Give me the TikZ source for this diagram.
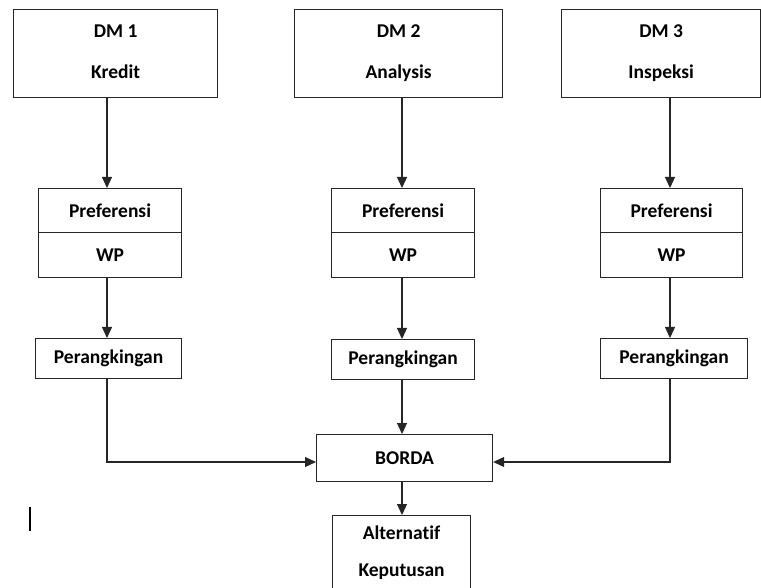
\documentclass[tikz,border=0pt]{standalone}
\usepackage{fontspec}
\setmainfont{Carlito}[Ligatures=NoCommon]
\usetikzlibrary{arrows.meta}
\newcommand{\dpstrut}{\rule[-4.5pt]{0pt}{1pt}}
\begin{document}
\begin{tikzpicture}[x=1pt,y=-1pt,
  box/.style={draw=black!85,line width=1.2pt,rectangle,inner sep=0pt,anchor=north west,
    font=\fontsize{19.5}{22}\selectfont\bfseries,align=center},
  twoline/.style={font=\fontsize{19.5}{#1}\selectfont\bfseries},
  arr/.style={draw=black!85,line width=1.2pt,-{Triangle[width=10pt,length=11pt]}}]
\useasboundingbox (0,0) rectangle (761,588);
% DM boxes
\node[box,twoline=43,minimum width=204pt,minimum height=88pt] (dm1) at (13,9) {DM 1\\[-2pt]Kredit\dpstrut};
\node[box,twoline=43,minimum width=208pt,minimum height=88pt] (dm2) at (294,9) {DM 2\\[-2pt]Analysis\dpstrut};
\node[box,twoline=43,minimum width=199pt,minimum height=88pt] (dm3) at (561,9) {DM 3\\[-2pt]Inspeksi\dpstrut};
% Preferensi / WP
\node[box,minimum width=143pt,minimum height=44pt] (p1) at (38,188) {Preferensi};
\node[box,minimum width=143pt,minimum height=45pt] (w1) at (38,232) {WP};
\node[box,minimum width=143pt,minimum height=44pt] (p2) at (331,188) {Preferensi};
\node[box,minimum width=143pt,minimum height=45pt] (w2) at (331,232) {WP};
\node[box,minimum width=142pt,minimum height=44pt] (p3) at (600,188) {Preferensi};
\node[box,minimum width=142pt,minimum height=45pt] (w3) at (600,232) {WP};
% Perangkingan
\node[box,minimum width=146pt,minimum height=40pt] (r1) at (35,338) {Perangkingan};
\node[box,minimum width=143pt,minimum height=40pt] (r2) at (331,339) {Perangkingan};
\node[box,minimum width=147pt,minimum height=40pt] (r3) at (600,338) {Perangkingan};
% BORDA
\node[box,minimum width=176pt,minimum height=47pt] (borda) at (316,434) {BORDA};
% Alternatif
\node[box,twoline=37,minimum width=138pt,minimum height=74pt] (alt) at (332,515) {Alternatif\\Keputusan};
% coordinates
\coordinate (c1) at (107,462);
\coordinate (c3) at (670,462);
% arrows
\draw[arr] (dm1.south -| 107,0) -- (p1.north -| 107,0);
\draw[arr] (dm2.south -| 402,0) -- (p2.north -| 402,0);
\draw[arr] (dm3.south -| 670,0) -- (p3.north -| 670,0);
\draw[arr] (w1.south -| 107,0) -- (r1.north -| 107,0);
\draw[arr] (w2.south -| 402,0) -- (r2.north -| 402,0);
\draw[arr] (w3.south -| 670,0) -- (r3.north -| 670,0);
\draw[arr] (r2.south -| 402,0) -- (borda.north -| 402,0);
\draw[arr] (r1.south -| c1) -- (c1) -- (borda.west |- c1);
\draw[arr] (r3.south -| c3) -- (c3) -- (borda.east |- c3);
\draw[arr] (borda.south -| 402,0) -- (alt.north -| 402,0);
% cursor mark
\draw[line width=1.6pt] (30,507) -- (30,531);
\end{tikzpicture}
\end{document}
